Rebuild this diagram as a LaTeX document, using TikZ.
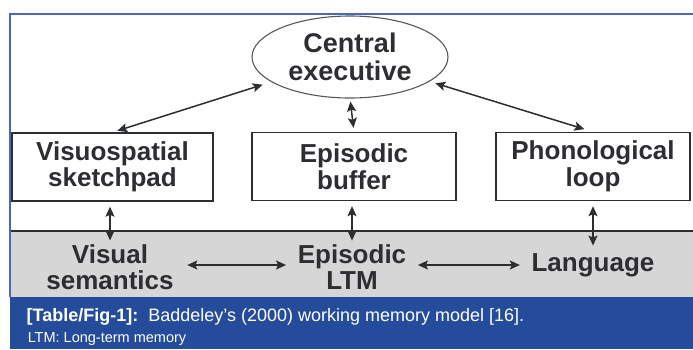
\documentclass[tikz,border=0pt]{standalone}
\usepackage{fontspec}
\setmainfont{Liberation Sans}
\usepackage{xcolor}
\usepackage{tikz}
\usetikzlibrary{arrows.meta,shapes}
\definecolor{frame_blue}{RGB}{70,105,185}
\definecolor{caption_blue}{RGB}{37,76,154}
\definecolor{band_grey}{RGB}{214,214,214}
\definecolor{ink}{RGB}{45,45,50}

\begin{document}
\begin{tikzpicture}[x=1pt,y=-1pt,<->,>={Stealth[length=10pt,width=9pt,inset=2pt]},
                    line width=1.5pt,draw=ink,
                    every node/.style={text=ink,font=\fontsize{26}{26.5}\selectfont\bfseries,align=center}]
    \tikzstyle{memory box}=[draw=ink,line width=1.4pt,minimum height=68pt]
    \tikzstyle{lower label}=[inner sep=1pt]

    \useasboundingbox (0,0) rectangle (693,349);
    % frame and bands
    \fill[band_grey] (10,231) rectangle (693,297);
    \draw[-,line width=1.4pt] (10,231) -- (693,231);
    \draw[-,frame_blue,line width=1.2pt] (693,14) -- (10,14) -- (10,297);
    \fill[caption_blue] (10,297) rectangle (693,349);

    \node[ellipse,draw=ink!80,line width=1.1pt,minimum width=196pt,minimum height=82pt,inner sep=0pt,
          font=\fontsize{27}{27.5}\selectfont\bfseries] (ce) at (350,57) {Central\\executive};
    \node[memory box,minimum width=201pt] (vs) at (112.5,167) {Visuospatial\\sketchpad};
    \node[memory box,minimum width=204pt] (eb) at (354,166.5) {Episodic\\buffer};
    \node[memory box,minimum width=194pt] (pl) at (593,166.5) {Phonological\\loop};

    \node[lower label] (vsem) at (110,267) {Visual\\semantics};
    \node[lower label] (eltm) at (352,267) {Episodic\\LTM};
    \node[lower label] (lang) at (593,265) {Language};

    \path (ce) edge [shorten <=9pt,shorten >=5pt] (vs.north)
          (ce) edge [shorten <=6pt,shorten >=9pt] (pl.north)
          (ce.south) edge [shorten <=3pt,shorten >=4pt] (eb.north)
          (vs.south -| vsem) edge [shorten <=5pt,shorten >=2pt] (vsem.north)
          (eb.south -| eltm) edge [shorten <=5pt,shorten >=2pt] (eltm.north)
          (pl.south) edge [shorten <=5pt,shorten >=6pt] (lang.north)
          ([yshift=2pt]vsem.east) edge [shorten <=12pt,shorten >=10pt] ([yshift=2pt]eltm.west)
          ([yshift=2pt]eltm.east) edge [shorten <=10pt,shorten >=10pt] ([yshift=0pt]lang.west);

    % caption
    \node[anchor=base west,text=white,font=\fontsize{18}{20}\selectfont,align=left,inner sep=0pt] (cap) at (26,321)
        {\textbf{[Table/Fig-1]:}\ \ Baddeley’s (2000) working memory model [16].};
    \node[anchor=base west,text=white,font=\fontsize{14.5}{16}\selectfont,align=left,inner sep=0pt] (capnote) at (27,342)
        {LTM: Long-term memory};
\end{tikzpicture}
\end{document}
